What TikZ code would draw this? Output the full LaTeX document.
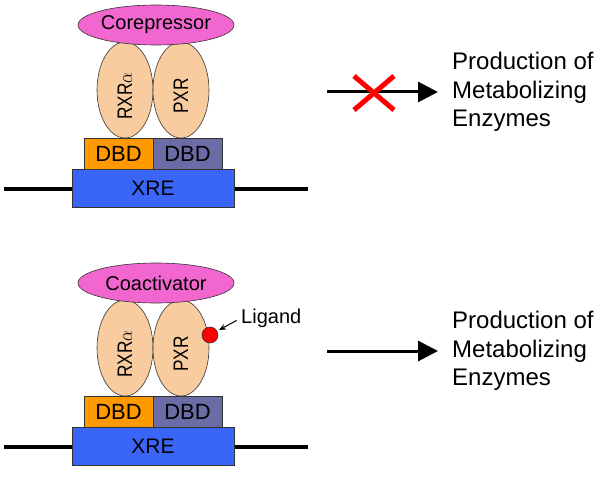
\documentclass[tikz,border=0pt]{standalone}
\usepackage{fontspec}
\setmainfont{Liberation Sans}
\usetikzlibrary{shapes.geometric,arrows.meta,positioning}

\definecolor{copink}{HTML}{F266D0}
\definecolor{peach}{HTML}{F9CCA0}
\definecolor{dbdorange}{HTML}{FF9900}
\definecolor{dbdpurple}{HTML}{6B6BA6}
\definecolor{xreblue}{HTML}{3A66F8}

% rotated receptor label, a little narrow and set below the middle
\newcommand{\reclabel}[1]{\hspace*{-12pt}\scalebox{0.82}[1]{#1}}

\tikzset{
  cofactor/.style={ellipse, draw=black!80, line width=0.6pt, fill=copink,
    minimum width=156pt, minimum height=40pt, inner sep=0pt,
    font=\fontsize{20}{24}\selectfont},
  receptor/.style={ellipse, draw=black!80, line width=0.6pt, fill=peach,
    rotate=90, minimum width=96pt, minimum height=56pt, inner sep=0pt,
    font=\fontsize{21}{24}\selectfont},
  dbdbox/.style={rectangle, draw=black!80, line width=0.6pt,
    minimum width=69pt, minimum height=31pt, inner sep=0pt,
    font=\fontsize{22}{24}\selectfont},
  xrebox/.style={rectangle, draw=black!80, line width=0.6pt, fill=xreblue,
    minimum width=162pt, minimum height=38pt, inner sep=0pt,
    font=\fontsize{21}{24}\selectfont},
  dna/.style={line width=4pt, black},
  flow/.style={line width=3pt, -{Triangle[length=20pt,width=20pt]}},
  blocked/.style={line width=5pt, red},
  outtext/.style={anchor=west, align=left, inner sep=0pt,
    font=\fontsize{24}{28.5}\selectfont},
}

\begin{document}
\begin{tikzpicture}[x=1pt,y=-1pt]
  \useasboundingbox (0,0) rectangle (608,484);

  % ---- Top: repressed state ----
  % DNA strand
  \coordinate (dnaL1) at (4,189);
  \coordinate (dnaR1) at (308,189);
  \draw[dna] (dnaL1) -- (dnaR1);
  \node[xrebox] (xre1) at (153,188) {XRE};

  % DNA binding domains
  \node[dbdbox, fill=dbdorange] (dbdA1) at (118.5,153.5) {DBD};
  \node[dbdbox, fill=dbdpurple] (dbdB1) at (187.5,153.5) {DBD};

  % Receptors
  \node[receptor] (rxr1) at (125,90) {\reclabel{RXR$\alpha$}};
  \node[receptor] (pxr1) at (181,90) {\reclabel{PXR}};

  % Corepressor
  \node[cofactor] (corep) at (156,25) {Corepressor};

  % Blocked output
  \node[outtext] (prod1) at (452,92) {Production of\\Metabolizing\\Enzymes};
  \coordinate (start1) at (327,92);
  \draw[flow, shorten >=14pt] (start1) -- (prod1.west);
  \coordinate (cross) at (374,93);
  \draw[blocked] ([shift={(-20,-17)}]cross) -- ([shift={(20,17)}]cross)
                 ([shift={(-20,17)}]cross) -- ([shift={(20,-17)}]cross);

  % ---- Bottom: activated state ----
  % DNA strand
  \coordinate (dnaL2) at (4,447);
  \coordinate (dnaR2) at (308,447);
  \draw[dna] (dnaL2) -- (dnaR2);
  \node[xrebox] (xre2) at (153,446) {XRE};

  % DNA binding domains
  \node[dbdbox, fill=dbdorange] (dbdA2) at (118.5,411.5) {DBD};
  \node[dbdbox, fill=dbdpurple] (dbdB2) at (187.5,411.5) {DBD};

  % Receptors
  \node[receptor] (rxr2) at (125,348) {\reclabel{RXR$\alpha$}};
  \node[receptor] (pxr2) at (181,348) {\reclabel{PXR}};

  % Coactivator
  \node[cofactor] (coact) at (156,283) {Coactivator};

  % Ligand
  \node[circle, draw=black!80, line width=0.6pt, fill=red, minimum size=16pt,
    inner sep=0pt] (ligdot) at (210,335) {};
  \node[anchor=west, inner sep=0pt, font=\fontsize{20}{24}\selectfont]
    (lig) at (241,318) {Ligand};
  \draw[line width=1pt, -{Stealth[length=7pt,width=6pt]}, shorten <=5pt,
    shorten >=2pt] (lig.west) -- (ligdot);

  % Output
  \node[outtext] (prod2) at (452,351) {Production of\\Metabolizing\\Enzymes};
  \coordinate (start2) at (327,351);
  \draw[flow, shorten >=14pt] (start2) -- (prod2.west);
\end{tikzpicture}
\end{document}
